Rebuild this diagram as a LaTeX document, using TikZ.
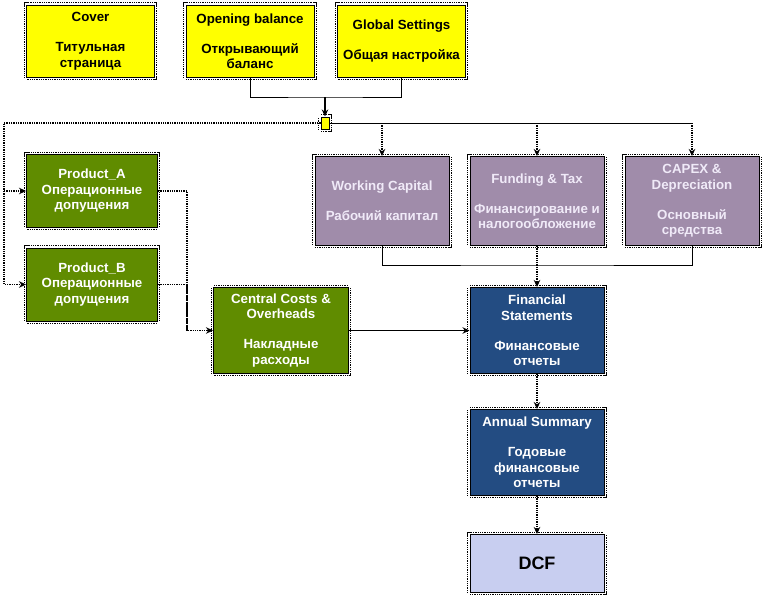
\documentclass[tikz,border=0pt]{standalone}
\usepackage{fontspec}
\setmainfont{Liberation Sans}
\usetikzlibrary{calc,shapes,arrows,arrows.meta}
\definecolor{CoverYellow}{RGB}{255,255,0}
\definecolor{OpsGreen}{RGB}{96,140,0}
\definecolor{CalcPurple}{RGB}{160,140,170}
\definecolor{CalcText}{RGB}{240,234,248}
\definecolor{ReportBlue}{RGB}{35,76,130}
\definecolor{DcfBlue}{RGB}{200,206,240}

\begin{document}
\begin{tikzpicture}[node distance=155pt, font=\bfseries\fontsize{13.3}{15.5}\selectfont]
				\tikzstyle{sheet} = [rectangle, align=center, draw=black, line width=1pt, inner sep=1pt,
					preaction={draw=black, line width=5.4pt, dash pattern=on 1pt off 0.8pt},
					preaction={draw=white, line width=3.2pt}]
				\tikzstyle{input} = [sheet, fill=CoverYellow, minimum width=128pt, minimum height=72pt, text=black]
				\tikzstyle{ops} = [sheet, fill=OpsGreen, minimum width=131pt, minimum height=73pt, text=white]
				\tikzstyle{calc} = [sheet, fill=CalcPurple, minimum width=134pt, minimum height=89pt, text=CalcText]
				\tikzstyle{report} = [sheet, fill=ReportBlue, minimum width=134pt, minimum height=86pt, text=white]
				\tikzstyle{hubbox} = [sheet, fill=CoverYellow, minimum width=8pt, minimum height=12pt, inner sep=0pt]
				\tikzstyle{arrow} = [line width=1.2pt,-{Stealth[length=7pt,width=6.5pt]}]
				\tikzstyle{dotarrow} = [line width=1.2pt,dash pattern=on 1.3pt off 1pt,-{Stealth[length=7pt,width=6.5pt]}]
				\tikzstyle{dotline} = [line width=1.2pt,dash pattern=on 1.3pt off 1pt]
				\tikzstyle{line} = [line width=0.9pt]
				
				\useasboundingbox (0pt,0pt) rectangle (764pt,-597pt);
				\node (fund) [calc] at (537pt,-201pt) {Funding \& Tax\\[14.5pt]Финансирование и\\налогообложение};
				\node (wc) [calc, left of=fund] {Working Capital\\[14.5pt]Рабочий капитал};
				\node (capex) [calc, right of=fund] {CAPEX \&\\Depreciation\\[14.5pt]Основный\\средства};
				\node (fin) [report, below of=fund, yshift=25.5pt] {Financial\\Statements\\[14.5pt]Финансовые\\отчеты};
				\node (annual) [report, below of=fin, yshift=33pt] {Annual Summary\\[14.5pt]Годовые\\финансовые\\отчеты};
				\node (dcf) [sheet, fill=DcfBlue, minimum width=134pt, minimum height=58pt, below of=annual, yshift=44pt, font=\bfseries\fontsize{18}{20}\selectfont] {DCF};
				\node (central) [ops, minimum height=86pt, minimum width=135pt, left of=fin, xshift=-101pt] {Central Costs \&\\Overheads\\[14.5pt]Накладные\\расходы};
				\node (prodB) [ops, left of=central, xshift=-34pt, yshift=46pt] {Product\_B\\Операционные\\допущения};
				\node (prodA) [ops, above of=prodB, yshift=-61.5pt] {Product\_A\\Операционные\\допущения};
				\node (cover) [input, above of=prodA, yshift=-5pt, xshift=-1.5pt] {Cover\\[14.5pt]Титульная\\страница};
				\node (opening) [input, right of=cover, xshift=4.5pt] {Opening balance\\[14.5pt]Открывающий\\баланс};
				\node (global) [input, right of=opening, xshift=-3.5pt] {Global Settings\\[14.5pt]Общая настройка};
				\coordinate (topjoin) at ($(opening.south)!0.5!(global.south)+(-0.75pt,-19.5pt)$);
				\node (hub) [hubbox] at ($(topjoin)+(0,-26pt)$) {};
				\coordinate (leftrail) at ($(prodA.west)+(-22pt,0)$);
				\coordinate (midrail) at ($(central.west)+(-26pt,0)$);
				\coordinate (botjoin) at ($(fund.south)+(0,-19pt)$);
				\draw [line] (opening.south) |- (topjoin) -| (global.south);
				\draw [arrow] (topjoin) -- (hub);
				\draw [dotline] (hub.west) -| (leftrail);
				\draw [dotarrow] (leftrail) -- (prodA.west);
				\draw [dotarrow] (leftrail) |- (prodB.west);
				\draw [line] (hub.east) -- (hub -| capex);
				\draw [dotarrow] (hub -| wc) -- (wc.north);
				\draw [dotarrow] (hub -| fund) -- (fund.north);
				\draw [dotarrow] (hub -| capex) -- (capex.north);
				\draw [dotline] (prodA.east) -| (midrail);
				\draw [dotarrow] (prodB.east) -| (midrail) -- (central.west);
				\draw [arrow] (central) -- (fin);
				\draw [line] (wc.south) |- (botjoin) -| (capex.south);
				\draw [dotarrow] (fund) -- (fin);
				\draw [dotarrow] (fin) -- (annual);
				\draw [dotarrow] (annual) -- (dcf);
			\end{tikzpicture}
\end{document}
